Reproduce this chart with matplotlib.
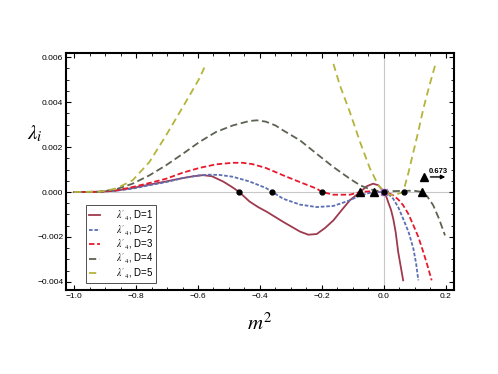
import numpy as np
import matplotlib
matplotlib.use("Agg")
import matplotlib.pyplot as plt
from matplotlib.ticker import MultipleLocator

plt.rcParams['font.family'] = ['Liberation Sans', 'DejaVu Sans']
plt.rcParams['mathtext.fontset'] = 'stix'

# lambda'_4 curves (m^2, value)
x_d1 = [-1.0, -0.918, -0.865, -0.811, -0.757, -0.703, -0.649, -0.615, -0.584, -0.555, -0.518,
        -0.49, -0.467, -0.434, -0.405, -0.378, -0.325, -0.271, -0.244, -0.217, -0.19, -0.163,
        -0.136, -0.110, -0.077, -0.055, -0.035, -0.018, 0.0, 0.008, 0.015, 0.023, 0.030, 0.038,
        0.046, 0.054, 0.062]
y_d1 = [0.0, 0.00001, 0.00006, 0.00018, 0.00033, 0.00047, 0.00062, 0.0007, 0.00075, 0.0007, 0.00046,
        0.00022, 0.0, -0.00042, -0.00068, -0.00088, -0.00133, -0.00176, -0.0019, -0.00187, -0.0016,
        -0.00126, -0.0008, -0.00037, 0.0, 0.00026, 0.00037, 0.0003, 0.0, -0.00022, -0.0005, -0.0008,
        -0.00119, -0.0018, -0.00267, -0.0033, -0.00393]

x_d2 = [-1.0, -0.918, -0.865, -0.811, -0.757, -0.703, -0.649, -0.596, -0.563, -0.531, -0.488,
        -0.434, -0.381, -0.36, -0.325, -0.271, -0.217, -0.163, -0.110, -0.077, -0.035,
        0.0, 0.015, 0.030, 0.047, 0.062, 0.08, 0.095, 0.104, 0.111]
y_d2 = [0.0, 0.00001, 0.00006, 0.00015, 0.0003, 0.00044, 0.00062, 0.00074, 0.00077, 0.00076, 0.00068,
        0.00047, 0.00018, 0.0, -0.0003, -0.00056, -0.00067, -0.00062, -0.00037, -0.00015, 0.0,
        0.0, -0.0001, -0.0003, -0.0007, -0.00119, -0.0018, -0.00252, -0.0032, -0.00393]

x_d3 = [-1.0, -0.918, -0.865, -0.811, -0.757, -0.703, -0.649, -0.596, -0.542, -0.488, -0.456,
        -0.424, -0.381, -0.325, -0.271, -0.217, -0.2, -0.163, -0.110, -0.077, -0.035,
        0.0, 0.015, 0.030, 0.046, 0.062, 0.079, 0.095, 0.111, 0.127, 0.141, 0.154]
y_d3 = [0.0, 0.00001, 0.00007, 0.00022, 0.0004, 0.00059, 0.00086, 0.00107, 0.00123, 0.0013, 0.0013,
        0.00124, 0.00107, 0.00074, 0.00044, 0.00015, 0.0, -0.00012, -0.00012, 0.0, 0.00004,
        0.0, -0.00005, -0.00015, -0.00033, -0.00059, -0.00098, -0.00148, -0.002, -0.00267, -0.0033,
        -0.00393]

x_d4 = [-1.0, -0.918, -0.865, -0.811, -0.757, -0.703, -0.649, -0.596, -0.542, -0.488, -0.434,
        -0.41, -0.381, -0.35, -0.325, -0.271, -0.217, -0.163, -0.110, -0.077, -0.045,
        -0.013, 0.0, 0.030, 0.062, 0.095, 0.124, 0.14, 0.159, 0.178, 0.197]
y_d4 = [0.0, 0.00001, 0.00012, 0.00037, 0.00074, 0.00119, 0.0017, 0.00222, 0.00267, 0.00296, 0.00316,
        0.00319, 0.00313, 0.00296, 0.00274, 0.0023, 0.0017, 0.00111, 0.00059, 0.0003, 0.00012,
        0.00003, 0.0, 0.00004, 0.00005, 0.00006, 0.0, -0.0002, -0.00059, -0.0012, -0.00193]

# D=5 leaves the plot range between the two branches
x_d5 = [-1.0, -0.918, -0.865, -0.811, -0.757, -0.703, -0.649, -0.596, -0.574, np.nan,
        -0.163, -0.142, -0.110, -0.077, -0.045, -0.018, 0.0, 0.015, 0.030, 0.046, 0.062, 0.078,
        0.095, 0.111, 0.127, 0.146, 0.165]
y_d5 = [0.0, 0.00001, 0.00015, 0.00052, 0.00133, 0.00252, 0.00378, 0.00504, 0.0057, np.nan,
        0.0057, 0.00474, 0.00356, 0.00222, 0.00104, 0.0003, 0.0, -0.0001, -0.00015, -0.00008, 0.0,
        0.0008, 0.00178, 0.0027, 0.0037, 0.0047, 0.00563]

dots_x = [-0.467, -0.36, -0.2, 0.0, 0.064]
tri_x = [-0.077, -0.033, 0.124]
off_x, off_y, off_label = 0.129, 0.00067, "0.673"

labels = [r"$\lambda'_4$, D=1", r"$\lambda'_4$, D=2", r"$\lambda'_4$, D=3",
          r"$\lambda'_4$, D=4", r"$\lambda'_4$, D=5"]
colors = ["#9e3a4e", "#5b6fb5", "#e8192c", "#5c6352", "#b4b43c"]
dashes = [None, (2.0, 1.0), (3.0, 1.5), (4.0, 2.0), (4.0, 2.5)]

fig = plt.figure(figsize=(4.98, 3.74), dpi=100)
ax = fig.add_axes([0.1325, 0.2246, 0.7791, 0.6334])

ax.axhline(0, color="#c8c8c8", lw=0.8, zorder=0)
ax.axvline(0, color="#c8c8c8", lw=0.8, zorder=0)

series = [(x_d1, y_d1), (x_d2, y_d2), (x_d3, y_d3), (x_d4, y_d4), (x_d5, y_d5)]
for (xs, ys), lab, c, d in zip(series, labels, colors, dashes):
    if d is None:
        ax.plot(xs, ys, color=c, lw=1.3, label=lab)
    else:
        ax.plot(xs, ys, color=c, lw=1.3, dashes=d, label=lab)

ax.plot([0.0], [0.0], 's', color="#b070d0", ms=5, zorder=4)
ax.plot(dots_x, np.zeros(len(dots_x)), 'o', color='black', ms=3.5, zorder=5)
ax.plot(tri_x, np.zeros(len(tri_x)), '^', color='black', ms=6, zorder=5)
ax.plot([off_x], [off_y], '^', color='black', ms=6, zorder=5)
ax.annotate("", xy=(off_x + 0.078, off_y), xytext=(off_x + 0.012, off_y),
            arrowprops=dict(arrowstyle="-|>", color="black", lw=1.0, mutation_scale=6))
ax.text(off_x + 0.045, off_y + 0.00008, off_label, fontsize=5.5, fontweight='bold',
        ha='center', va='bottom')

ax.set_xlim(-1.026, 0.226)
ax.set_ylim(-0.00436, 0.00618)
ax.xaxis.set_major_locator(MultipleLocator(0.2))
ax.xaxis.set_minor_locator(MultipleLocator(0.05))
ax.yaxis.set_major_locator(MultipleLocator(0.002))
ax.yaxis.set_minor_locator(MultipleLocator(0.0005))
ax.xaxis.set_major_formatter(plt.FuncFormatter(lambda v, p: f"{v:.1f}".replace("-", "\u2212")))
ax.yaxis.set_major_formatter(plt.FuncFormatter(lambda v, p: f"{v:.3f}".replace("-", "\u2212")))
ax.tick_params(which='both', direction='in', top=True, right=True, labelsize=6, pad=2)
ax.tick_params(which='major', length=3.5, width=0.8)
ax.tick_params(which='minor', length=2, width=0.6)
for s in ax.spines.values():
    s.set_linewidth(1.5)

ax.set_xlabel(r"$m^2$", fontsize=15, labelpad=9)
ax.set_ylabel(r"$\lambda_i$", fontsize=15, rotation=0, ha='center', va='center')
ax.yaxis.set_label_coords(-0.08, 0.66)

leg = ax.legend(loc='lower left', bbox_to_anchor=(0.04, 0.01), fontsize=7, frameon=True,
                fancybox=False, edgecolor='black', handlelength=1.1, labelspacing=0.05,
                borderpad=0.3, handletextpad=1.6)
leg.get_frame().set_linewidth(0.6)

fig.savefig("out.png", dpi=100)
